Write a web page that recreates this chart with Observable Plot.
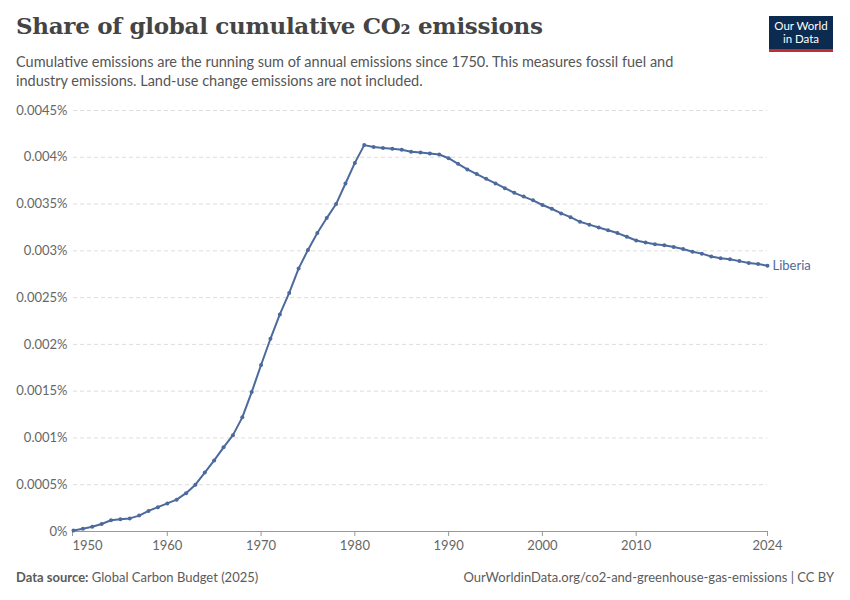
<!DOCTYPE html>
<html>
<head>
<meta charset="utf-8">
<script src="https://cdn.jsdelivr.net/npm/d3@7"></script>
<script src="https://cdn.jsdelivr.net/npm/@observablehq/plot@0.6"></script>
<style>
  body { margin: 0; background: #fff; font-family: Lato, "Noto Sans", sans-serif; }
  #wrap { position: relative; width: 850px; height: 600px; }
  h1 { position: absolute; left: 16px; top: 12px; margin: 0; font-family: "DejaVu Serif", "Liberation Serif", serif; font-weight: bold; font-size: 23px; color: #444; letter-spacing: -0.3px; }
  #sub { position: absolute; left: 16px; top: 52px; width: 690px; font-size: 14.5px; line-height: 19px; color: #555; }
  #logo { position: absolute; left: 769px; top: 16px; width: 64px; height: 36px; background: #0c2b50; color: #fff; font-size: 11.5px; line-height: 13px; text-align: center; padding-top: 3px; box-sizing: border-box; border-bottom: 3px solid #c42d2d; }
  #chart { position: absolute; left: 0; top: 100px; }
  #foot { position: absolute; left: 16px; right: 16px; top: 569px; font-size: 13px; color: #5b5b5b; }
  #foot .r { position: absolute; right: 0; top: 0; }
</style>
</head>
<body>
<div id="wrap">
  <h1>Share of global cumulative CO₂ emissions</h1>
  <div id="sub">Cumulative emissions are the running sum of annual emissions since 1750. This measures fossil fuel and industry emissions. Land-use change emissions are not included.</div>
  <div id="logo">Our World<br>in Data</div>
  <div id="chart"></div>
  <div id="foot"><b>Data source:</b> Global Carbon Budget (2025)<span class="r">OurWorldinData.org/co2-and-greenhouse-gas-emissions | CC BY</span></div>
</div>
<script>
const years = d3.range(1950, 2025);
const liberia = [
  0.00001, 0.00003, 0.00005, 0.00008, 0.00012, 0.00013, 0.00014, 0.00017, 0.00022, 0.00026,
  0.00030, 0.00034, 0.00041, 0.00050, 0.00063, 0.00076, 0.00090, 0.00103, 0.00122, 0.00149,
  0.00178, 0.00206, 0.00232, 0.00255, 0.00281, 0.00301, 0.00319, 0.00335, 0.00350, 0.00372,
  0.00394, 0.00413, 0.00411, 0.00410, 0.00409, 0.00408, 0.00406, 0.00405, 0.00404, 0.00403,
  0.00399, 0.00393, 0.00387, 0.00382, 0.00377, 0.00372, 0.00367, 0.00362, 0.00358, 0.00354,
  0.00349, 0.00345, 0.00340, 0.00336, 0.00331, 0.00328, 0.00325, 0.00322, 0.00319, 0.00315,
  0.00311, 0.00309, 0.00307, 0.00306, 0.00304, 0.00302, 0.00299, 0.00297, 0.00294, 0.00292,
  0.00291, 0.00289, 0.00287, 0.00286, 0.00284
];
const yTicks = [0, 0.0005, 0.001, 0.0015, 0.002, 0.0025, 0.003, 0.0035, 0.004, 0.0045];
const xTicks = [1960, 1970, 1980, 1990, 2000, 2010, 2024];

const data = years.map((year, i) => ({year, value: liberia[i]}));
const color = "#4c6a9c";

const chart = Plot.plot({
  width: 850,
  height: 455,
  marginTop: 10,
  marginBottom: 24,
  marginLeft: 73,
  marginRight: 83,
  style: {fontFamily: "Lato, 'Noto Sans', sans-serif", fontSize: "13px", color: "#666"},
  x: {domain: [1950, 2024]},
  y: {domain: [0, 0.0045]},
  marks: [
    Plot.gridY(yTicks, {stroke: "#ddd", strokeOpacity: 1, strokeDasharray: "4,3"}),
    Plot.axisY(yTicks, {tickSize: 0, tickPadding: 6, label: null, fill: "#666", fontSize: 13,
      tickFormat: d => (+d.toFixed(4)) + "%"}),
    Plot.ruleY([0], {stroke: "#999"}),
    Plot.axisX(xTicks, {tickFormat: d => String(d), label: null, tickSize: 5, stroke: "#999", fill: "#666", fontSize: 13}),
    Plot.axisX([1950], {tickFormat: d => String(d), label: null, tickSize: 5, stroke: "#999", fill: "#666", fontSize: 13, textAnchor: "start", dx: -1}),
    Plot.line(data, {x: "year", y: "value", stroke: color, strokeWidth: 2}),
    Plot.dot(data, {x: "year", y: "value", fill: color, r: 2}),
    Plot.text(data.slice(-1), {x: "year", y: "value", text: () => "Liberia", fill: color, textAnchor: "start", dx: 5, fontSize: 13})
  ]
});
document.getElementById("chart").append(chart);
</script>
</body>
</html>
